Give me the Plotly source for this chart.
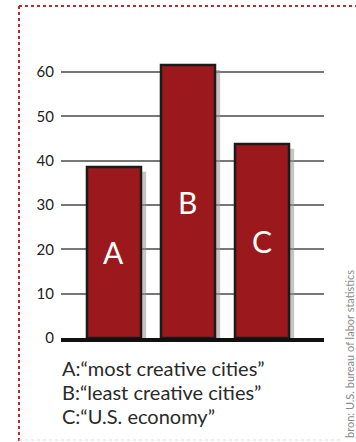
import plotly.graph_objects as go

categories = ["A", "B", "C"]
values = [38.6, 61.6, 43.8]
y_ticks = [0, 10, 20, 30, 40, 50, 60]
legend_lines = ["A:\u201cmost creative cities\u201d",
                "B:\u201cleast creative cities\u201d",
                "C:\u201cU.S. economy\u201d"]
source_text = "bron: U.S. bureau of labor statistics"

W, H = 356, 442
FONT = "Lato"
bar_w = 0.73

fig = go.Figure()
# drop shadow
fig.add_trace(go.Bar(
    x=categories, y=values, base=-1.1, width=bar_w, offset=-bar_w / 2 + 0.07,
    marker=dict(color="rgba(150,150,150,0.55)", line=dict(width=0)),
    hoverinfo="skip", showlegend=False))
# main bars
fig.add_trace(go.Bar(
    x=categories, y=values, width=bar_w, offset=-bar_w / 2,
    marker=dict(color="#9b191c", line=dict(color="#1e1a1a", width=2.5)),
    showlegend=False))

# letters centred in the bars
for c, v in zip(categories, values):
    fig.add_annotation(x=c, y=v / 2, text=c, showarrow=False,
                       xanchor="center", yanchor="middle",
                       font=dict(family=FONT, size=30, color="white"))

fig.update_layout(
    width=W, height=H,
    margin=dict(l=61, r=32, t=50, b=104),
    paper_bgcolor="white", plot_bgcolor="white",
    barmode="overlay",
    font=dict(family=FONT, color="#222"),
    xaxis=dict(range=[-0.716, 2.838], showticklabels=False, showgrid=False,
               showline=True, linecolor="#111", linewidth=4, ticks="",
               zeroline=False, fixedrange=True),
    yaxis=dict(range=[0, 65], tickvals=y_ticks, showgrid=True,
               gridcolor="#777", gridwidth=1.5, zeroline=False,
               showline=False, ticks="", ticklabelstandoff=6,
               tickfont=dict(family=FONT, size=15, color="#222"),
               fixedrange=True),
)

def px_x(px):
    return (px - 61) / (W - 61 - 32)

def px_y(py):
    return (H - 104 - py) / (H - 50 - 104)

# legend text lines
for i, line in enumerate(legend_lines):
    fig.add_annotation(
        text=line, xref="paper", yref="paper",
        x=px_x(60), y=px_y(368 + 24 * i),
        xanchor="left", yanchor="middle", showarrow=False,
        font=dict(family=FONT, size=20, color="#2a2a2a"))

# rotated source credit
fig.add_annotation(
    text=source_text, xref="paper", yref="paper",
    x=px_x(349), y=px_y(440),
    xanchor="center", yanchor="bottom", textangle=-90, showarrow=False,
    font=dict(family=FONT, size=11, color="#8a8a8a"))

# decorative dotted frame
fig.add_shape(type="line", xref="paper", yref="paper",
              x0=px_x(19), x1=px_x(356), y0=px_y(6), y1=px_y(6),
              line=dict(color="#c0282d", width=2, dash="dot"))
fig.add_shape(type="line", xref="paper", yref="paper",
              x0=px_x(19), x1=px_x(19), y0=px_y(6), y1=px_y(442),
              line=dict(color="#c0282d", width=2, dash="dot"))
fig.add_shape(type="line", xref="paper", yref="paper",
              x0=px_x(19), x1=px_x(340), y0=px_y(440), y1=px_y(440),
              line=dict(color="#ddd", width=1, dash="dot"))

fig.write_html("out.html")
